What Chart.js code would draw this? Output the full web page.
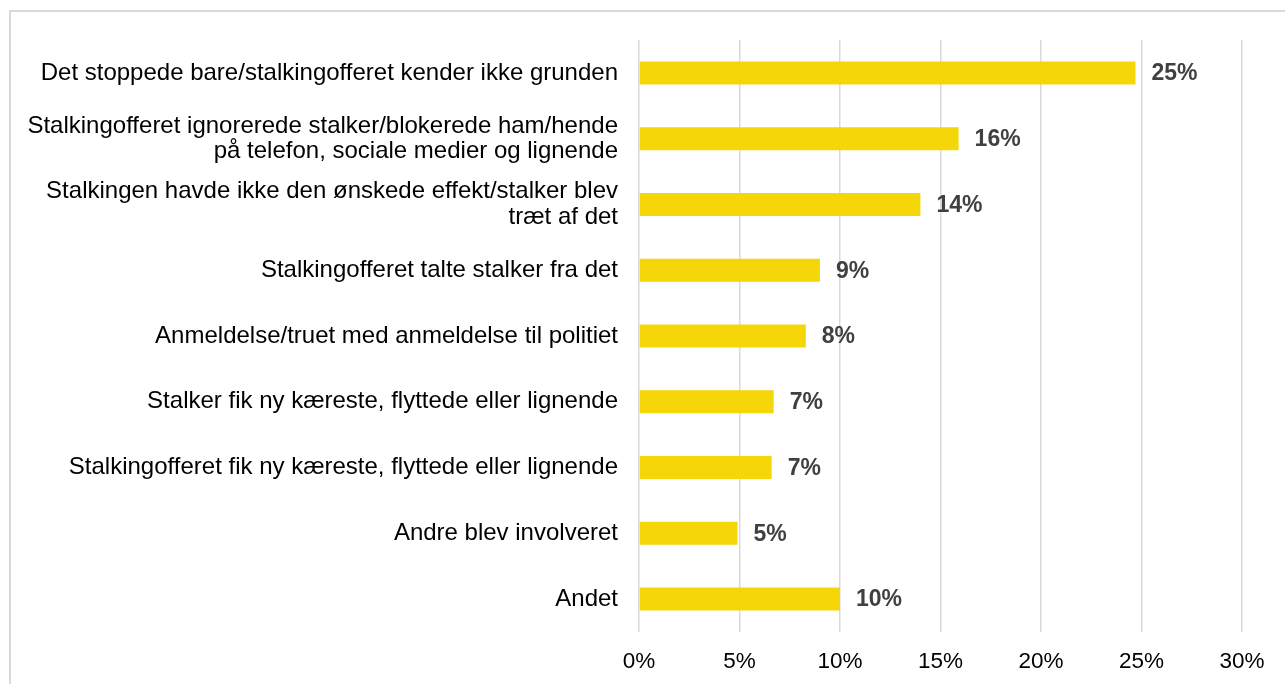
<!DOCTYPE html>
<html>
<head>
<meta charset="utf-8">
<script src="https://cdn.jsdelivr.net/npm/chart.js@4"></script>
<style>
  body { margin: 0; background: #fff; }
  #wrap { position: relative; width: 1285px; height: 684px; overflow: hidden; }
  #frame { position: absolute; left: 9px; top: 10px; width: 1300px; height: 700px; border: 2px solid #d9d9d9; }
  #chart { position: absolute; left: 0; top: 0; }
</style>
</head>
<body>
<div id="wrap">
  <div id="frame"></div>
  <canvas id="chart" width="1285" height="684"></canvas>
</div>
<script>
/* --------- データ --------- */
// カテゴリ（複数行は配列）
const categories = [
  "Det stoppede bare/stalkingofferet kender ikke grunden",
  ["Stalkingofferet ignorerede stalker/blokerede ham/hende", "på telefon, sociale medier og lignende"],
  ["Stalkingen havde ikke den ønskede effekt/stalker blev", "træt af det"],
  "Stalkingofferet talte stalker fra det",
  "Anmeldelse/truet med anmeldelse til politiet",
  "Stalker fik ny kæreste, flyttede eller lignende",
  "Stalkingofferet fik ny kæreste, flyttede eller lignende",
  "Andre blev involveret",
  "Andet",
];

// 値（%）
const shares = [24.7, 15.9, 14.0, 9.0, 8.3, 6.7, 6.6, 4.9, 10.0];

// X軸の目盛
const xTicks = [0, 5, 10, 15, 20, 25, 30];

const FONT = "'Liberation Sans', Arial, sans-serif";

/* --------- データラベル --------- */
const valueLabels = {
  id: "valueLabels",
  afterDatasetsDraw(chart) {
    const ctx = chart.ctx;
    const meta = chart.getDatasetMeta(0);
    ctx.save();
    ctx.font = "bold 23px " + FONT;
    ctx.fillStyle = "#404040";
    ctx.textAlign = "left";
    ctx.textBaseline = "middle";
    meta.data.forEach((bar, i) => {
      ctx.fillText(Math.round(shares[i]) + "%", bar.x + 16, bar.y + 1);
    });
    ctx.restore();
  },
};

/* --------- グラフ描画 --------- */
new Chart(document.getElementById("chart"), {
  type: "bar",
  data: {
    labels: categories,
    datasets: [
      {
        data: shares,
        backgroundColor: "rgb(245,214,8)",
        barPercentage: 0.35,
        categoryPercentage: 1,
      },
    ],
  },
  options: {
    indexAxis: "y",
    responsive: false,
    animation: false,
    layout: { padding: { top: 40, right: 43, left: 0, bottom: 0 } },
    plugins: { legend: { display: false }, tooltip: { enabled: false } },
    scales: {
      x: {
        min: 0,
        max: 30,
        afterBuildTicks: (s) => { s.ticks = xTicks.map((v) => ({ value: v })); },
        afterFit: (s) => { s.height = 52; },
        grid: { color: "#d9d9d9", lineWidth: 1.5, drawTicks: false },
        border: { display: false },
        ticks: {
          padding: 16,
          color: "#000",
          font: { family: FONT, size: 22.5 },
          callback: (v) => v + "%",
        },
      },
      y: {
        afterFit: (s) => { s.width = 639; },
        grid: { display: false, drawTicks: false },
        border: { display: false },
        ticks: {
          padding: 21,
          color: "#000",
          font: { family: FONT, size: 24, lineHeight: 1.05 },
        },
      },
    },
  },
  plugins: [valueLabels],
});
</script>
</body>
</html>
